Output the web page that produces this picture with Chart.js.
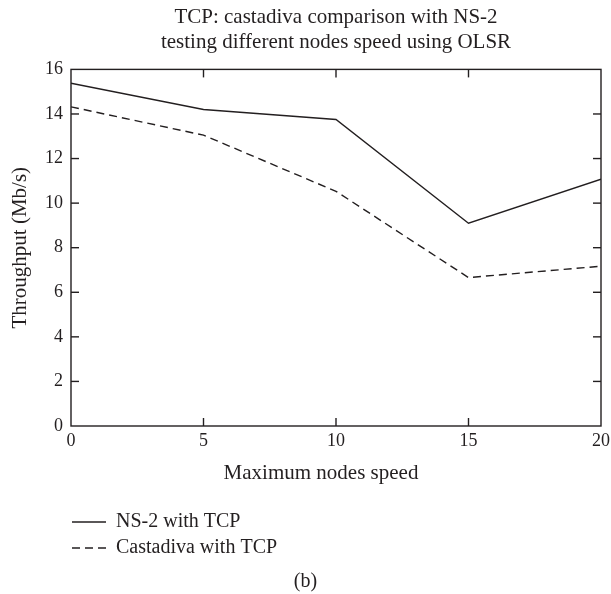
<!DOCTYPE html>
<html>
<head>
<meta charset="utf-8">
<script src="https://cdn.jsdelivr.net/npm/chart.js@4.4.0/dist/chart.umd.min.js"></script>
<style>
  html, body { margin: 0; padding: 0; background: #fff; }
</style>
</head>
<body>
<canvas id="myChart" width="611" height="594"></canvas>
<script>
const speeds = [0, 5, 10, 15, 20];
const ns2Tcp = [15.38, 14.2, 13.75, 9.1, 11.07];
const castadivaTcp = [14.32, 13.05, 10.53, 6.66, 7.17];
const seriesLabels = ['NS-2 with TCP', 'Castadiva with TCP'];
const titleLines = ['TCP: castadiva comparison with NS-2', 'testing different nodes speed using OLSR'];
const xTitle = 'Maximum nodes speed';
const yTitle = 'Throughput (Mb/s)';
const panelLabel = '(b)';

const ink = '#231f20';
const serif = "'Liberation Serif', 'Times New Roman', serif";

// box round the plot, with tick marks pointing inwards on all four sides
const frame = {
  id: 'frame',
  afterDatasetsDraw(chart) {
    const {ctx, chartArea: a, scales: {x, y}} = chart;
    const len = 8;
    const line = (x1, y1, x2, y2) => {
      ctx.beginPath();
      ctx.moveTo(x1, y1);
      ctx.lineTo(x2, y2);
      ctx.stroke();
    };
    ctx.save();
    ctx.strokeStyle = ink;
    ctx.lineWidth = 1.4;
    ctx.strokeRect(a.left, a.top, a.right - a.left, a.bottom - a.top);
    x.ticks.forEach(t => {
      const px = x.getPixelForValue(t.value);
      if (px <= a.left + 1 || px >= a.right - 1) return;
      line(px, a.bottom, px, a.bottom - len);
      line(px, a.top, px, a.top + len);
    });
    y.ticks.forEach(t => {
      const py = y.getPixelForValue(t.value);
      if (py <= a.top + 1 || py >= a.bottom - 1) return;
      line(a.left, py, a.left + len, py);
      line(a.right, py, a.right - len, py);
    });
    ctx.restore();
  }
};

// x axis title (sits a bit left of centre in the original), legend and panel label
const bottomNotes = {
  id: 'bottomNotes',
  afterDraw(chart) {
    const {ctx, chartArea: a} = chart;
    ctx.save();
    ctx.fillStyle = ink;
    ctx.strokeStyle = ink;
    ctx.lineWidth = 1.4;
    ctx.textBaseline = 'middle';
    ctx.textAlign = 'center';
    ctx.font = '21px ' + serif;
    ctx.fillText(xTitle, (a.left + a.right) / 2 - 15, a.bottom + 47);

    ctx.font = '20px ' + serif;
    chart.data.datasets.forEach((ds, i) => {
      const rowY = 522 + i * 26;
      ctx.setLineDash(ds.borderDash || []);
      ctx.beginPath();
      ctx.moveTo(72, rowY);
      ctx.lineTo(106, rowY);
      ctx.stroke();
      ctx.setLineDash([]);
      ctx.textAlign = 'left';
      ctx.fillText(ds.label, 116, rowY);
    });
    ctx.textAlign = 'center';
    ctx.fillText(panelLabel, chart.width / 2, 582);
    ctx.restore();
  }
};

const data = {
  datasets: [
    {
      label: seriesLabels[0],
      data: speeds.map((s, i) => ({x: s, y: ns2Tcp[i]})),
      borderColor: ink,
      borderWidth: 1.4,
      pointRadius: 0,
      tension: 0,
    },
    {
      label: seriesLabels[1],
      data: speeds.map((s, i) => ({x: s, y: castadivaTcp[i]})),
      borderColor: ink,
      borderWidth: 1.4,
      borderDash: [8, 5],
      pointRadius: 0,
      tension: 0,
    },
  ],
};

const config = {
  type: 'line',
  data,
  options: {
    responsive: false,
    animation: false,
    devicePixelRatio: 1,
    layout: {
      padding: {left: 0, right: 0, top: 0, bottom: 110},
    },
    plugins: {
      legend: {display: false},
      tooltip: {enabled: false},
      title: {
        display: true,
        text: titleLines,
        fullSize: false,
        color: ink,
        font: {family: serif, size: 21, weight: 'normal', lineHeight: 1.2},
        padding: {top: 5, bottom: 14},
      },
    },
    scales: {
      x: {
        type: 'linear',
        min: 0,
        max: 20,
        grid: {display: false, drawTicks: false},
        border: {display: false},
        ticks: {
          stepSize: 5,
          padding: 4,
          color: ink,
          font: {family: serif, size: 18},
        },
        title: {display: false, text: xTitle},
        afterFit(scale) {
          scale.height = 58;
          scale.paddingRight = 10;
        },
      },
      y: {
        min: 0,
        max: 16,
        grid: {display: false, drawTicks: false},
        border: {display: false},
        ticks: {
          stepSize: 2,
          padding: 8,
          color: ink,
          font: {family: serif, size: 18},
        },
        title: {
          display: true,
          text: yTitle,
          color: ink,
          font: {family: serif, size: 21, lineHeight: 1.2},
          padding: {top: 8, bottom: 0},
        },
        afterFit(scale) { scale.width = 71; },
      },
    },
  },
  plugins: [frame, bottomNotes],
};

const ctx = document.getElementById('myChart');

const chart = new Chart(ctx, config);
</script>
</body>
</html>
